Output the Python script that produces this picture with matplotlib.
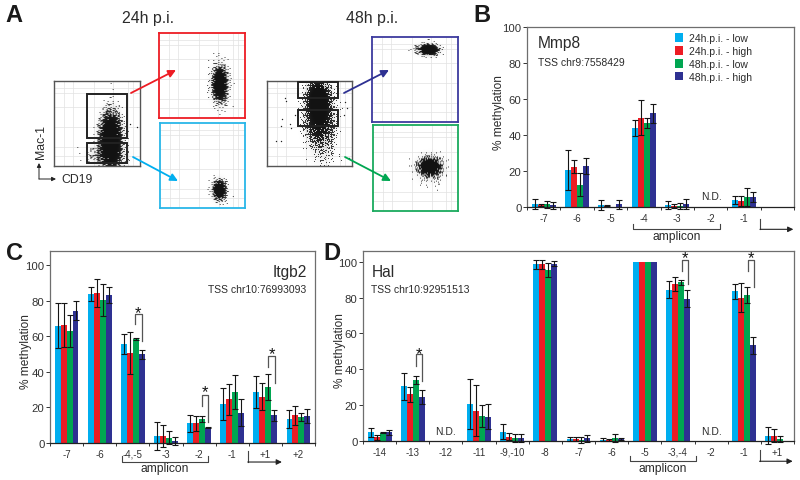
import numpy as np
import matplotlib
matplotlib.use('Agg')
import matplotlib.pyplot as plt
from matplotlib.patches import Rectangle, FancyArrowPatch

W, H = 800, 481

C_LOW24 = '#00aeef'
C_HIGH24 = '#ed1c24'
C_LOW48 = '#00a651'
C_HIGH48 = '#2e3192'
COLORS = [C_LOW24, C_HIGH24, C_LOW48, C_HIGH48]
SERIES = ['24h.p.i. - low', '24h.p.i. - high', '48h.p.i. - low', '48h.p.i. - high']
FRAME = '#6e6e6e'
TEXT = '#2b2b2b'

# ── Values ───────────────────────────────────────────────────────────────────

MMP8_LABELS = ['-7', '-6', '-5', '-4', '-3', '-2', '-1', '']
MMP8_LOW24 = [1.5, 20.5, 1.2, 44, 1.3, 0, 3.8, 0]
MMP8_HIGH24 = [1, 22.5, 0.7, 49.5, 0.5, 0, 3.3, 0]
MMP8_LOW48 = [1.5, 12.5, 0, 46.5, 0.8, 0, 5.5, 0]
MMP8_HIGH48 = [1, 23, 1.5, 52, 1.5, 0, 5.5, 0]
MMP8_ERR_LOW24 = [2.7, 11, 2.7, 4.5, 2.2, 0, 2.2, 0]
MMP8_ERR_HIGH24 = [0.5, 3.5, 0.3, 9.7, 1, 0, 3, 0]
MMP8_ERR_LOW48 = [2, 6.5, 0, 2.7, 1.7, 0, 4.8, 0]
MMP8_ERR_HIGH48 = [2, 4.5, 2.5, 5.5, 2.8, 0, 2.7, 0]

ITGB2_LABELS = ['-7', '-6', '-4,-5', '-3', '-2', '-1', '+1', '+2']
ITGB2_LOW24 = [66, 84, 55.5, 4, 11, 22, 28.5, 13.3]
ITGB2_HIGH24 = [66.5, 84.5, 50.5, 4, 11, 24.5, 26, 15.5]
ITGB2_LOW48 = [63, 80.5, 58.5, 3, 13.5, 28.5, 31.5, 14.7]
ITGB2_HIGH48 = [74.5, 83, 50, 1.3, 8.7, 17, 15.5, 15.3]
ITGB2_ERR_LOW24 = [12.5, 4, 5.7, 8, 4.7, 9, 9, 5]
ITGB2_ERR_HIGH24 = [12.5, 7.8, 11.7, 6, 4, 8.5, 7.5, 5.3]
ITGB2_ERR_LOW48 = [9, 9.2, 0.3, 3.5, 1.5, 9.5, 7.3, 2.3]
ITGB2_ERR_HIGH48 = [5.5, 4.5, 2.5, 2.2, 0.3, 7.5, 3, 3.8]

HAL_LABELS = ['-14', '-13', '-12', '-11', '-9,-10', '-8', '-7', '-6', '-5', '-3,-4', '-2', '-1', '+1']
HAL_LOW24 = [4.8, 30.5, 0, 20.5, 5.3, 98.5, 1.2, 0.8, 100, 84.5, 0, 83.5, 3]
HAL_HIGH24 = [2, 26, 0, 17, 2.3, 98.5, 1.2, 0.5, 100, 87.5, 0, 80, 3]
HAL_LOW48 = [4.5, 34, 0, 14, 1.7, 95.5, 0.7, 1.8, 100, 88.5, 0, 81.5, 1]
HAL_HIGH48 = [4.8, 24.5, 0, 13.5, 1.7, 99, 1.5, 1, 100, 79.5, 0, 53.5, 0.2]
HAL_ERR_LOW24 = [2.7, 7.5, 0, 14, 4, 2.5, 1, 0.7, 0, 4.7, 0, 4, 4.8]
HAL_ERR_HIGH24 = [1.3, 4, 0, 14, 2, 2.5, 1.2, 0.5, 0, 4, 0, 8, 3.5]
HAL_ERR_LOW48 = [0.3, 2, 0, 6, 2.3, 4, 1.7, 2.3, 0, 1.5, 0, 4.5, 1.8]
HAL_ERR_HIGH48 = [1.2, 4, 0, 7, 2, 1.5, 2, 0.5, 0, 4.5, 0, 4.7, 0]

# flow plots: density blobs (x, y, spread x, spread y, weight)
CLOUD_24_MAIN = [(0.66, 0.30, 0.056, 0.15, 12), (0.62, 0.12, 0.11, 0.07, 1.2), (0.66, 0.42, 0.07, 0.12, 0.5)]
CLOUD_24_HIGH = [(0.70, 0.40, 0.036, 0.085, 12), (0.70, 0.40, 0.06, 0.13, 0.8)]
CLOUD_24_LOW = [(0.69, 0.21, 0.03, 0.048, 12), (0.69, 0.21, 0.05, 0.07, 1)]
CLOUD_48_MAIN = [(0.605, 0.75, 0.056, 0.11, 12), (0.62, 0.50, 0.08, 0.13, 3), (0.65, 0.22, 0.08, 0.13, 0.35),
                 (0.61, 0.72, 0.09, 0.16, 1)]
CLOUD_48_HIGH = [(0.66, 0.85, 0.048, 0.027, 12), (0.65, 0.85, 0.08, 0.04, 0.9)]
CLOUD_48_LOW = [(0.67, 0.515, 0.056, 0.045, 12), (0.67, 0.50, 0.09, 0.08, 0.9)]

STRAY_48_X = [0.21, 0.22, 0.11, 0.16, 0.18, 0.28, 0.27, 0.92, 0.94, 0.90, 0.96, 0.33, 0.16]
STRAY_48_Y = [0.80, 0.76, 0.29, 0.30, 0.55, 0.45, 0.50, 0.75, 0.68, 0.60, 0.10, 0.60, 0.47]
STRAY_24_X = [0.97, 0.88]
STRAY_24_Y = [0.46, 0.50]

GATES_24 = [(0.38, 0.33, 0.47, 0.52), (0.38, 0.035, 0.47, 0.235)]
GATES_48 = [(0.365, 0.80, 0.47, 0.19), (0.365, 0.47, 0.47, 0.19)]
GRID_FRACS = [0.12, 0.22, 0.46, 0.69, 0.86, 0.92]


# ── Helpers ──────────────────────────────────────────────────────────────────

def px_axes(fig, left, top, right, bottom, **kw):
    return fig.add_axes([left / W, 1 - bottom / H, (right - left) / W, (bottom - top) / H], **kw)


def density_image(blobs, n=85):
    # dots are stippled with a fixed low-discrepancy threshold, so every run is identical
    u = (np.arange(n) + 0.5) / n
    xx, yy = np.meshgrid(u, u)
    dens = np.zeros_like(xx)
    for cx, cy, sx, sy, w in blobs:
        dens += w * np.exp(-0.5 * (((xx - cx) / sx) ** 2 + ((yy - cy) / sy) ** 2))
    prob = 1 - np.exp(-dens)
    i, j = np.meshgrid(np.arange(n), np.arange(n))
    thresh = (i * 0.7548776662 + j * 0.5698402910 + (i * j % 7) * 0.381966) % 1
    rgba = np.zeros((n, n, 4))
    rgba[..., :3] = 0.07
    rgba[..., 3] = np.clip((prob > thresh) * 0.75 + prob * 0.25, 0, 1)
    return rgba


def flow_panel(fig, box, edge, lw, blobs, stray=None, gates=()):
    ax = px_axes(fig, *box)
    ax.set_xlim(0, 1)
    ax.set_ylim(0, 1)
    ax.set_xticks([])
    ax.set_yticks([])
    for s in ax.spines.values():
        s.set_color(edge)
        s.set_linewidth(lw)
    for f in GRID_FRACS:
        ax.axvline(f, color='#e2e2e2', lw=0.5, zorder=0)
        ax.axhline(f, color='#e2e2e2', lw=0.5, zorder=0)
    ax.imshow(density_image(blobs), extent=(0, 1, 0, 1), origin='lower', aspect='auto',
              interpolation='bilinear', zorder=1)
    if stray is not None:
        ax.scatter(stray[0], stray[1], s=1.0, color='#222222', lw=0, zorder=2)
    for x, y, w, h in gates:
        ax.add_patch(Rectangle((x, y), w, h, fc='none', ec='#222222', lw=1.4, zorder=4))
    return ax


def bracket(ax, x0, x1, top, left_end, right_end, star_y):
    ax.plot([x0, x0, x1, x1], [left_end, top, top, right_end], color='#555555', lw=0.9, clip_on=False, zorder=6)
    ax.text((x0 + x1) / 2, star_y, '*', ha='center', va='center', fontsize=12, color='#111111', clip_on=False)


def amplicon(ax, x0, x1, y_tip, y_base, y_text):
    ax.plot([x0, x0, x1, x1], [y_tip, y_base, y_base, y_tip], color='#444444', lw=0.8, clip_on=False)
    ax.text((x0 + x1) / 2, y_text, 'amplicon', ha='center', va='center', fontsize=8.7, color=TEXT)


def tss_arrow(ax, x0, x1, y_top, y_base):
    ax.plot([x0, x0], [y_top, y_base], color='#444444', lw=0.8, clip_on=False)
    ax.annotate('', xy=(x1, y_base), xytext=(x0, y_base), annotation_clip=False,
                arrowprops=dict(arrowstyle='-|>', color='#222222', lw=0.8, mutation_scale=8, shrinkA=0, shrinkB=0))


def bar_panel(fig, box, ymax, labels, values, errors, label_px, label_frac):
    ax = px_axes(fig, *box)
    n = len(labels)
    x = np.arange(n)
    width = 0.18
    for i, (vals, errs, color) in enumerate(zip(values, errors, COLORS)):
        pos = x + 0.5 + (i - 1.5) * width
        vals = np.array(vals, dtype=float)
        errs = np.array(errs, dtype=float)
        ax.bar(pos, vals, width, color=color, lw=0, label=SERIES[i], zorder=2)
        keep = errs > 0
        ax.errorbar(pos[keep], vals[keep], yerr=errs[keep], fmt='none', ecolor='#151515',
                    elinewidth=0.8, capsize=2.3, capthick=0.8, zorder=3, clip_on=False)
    ax.set_xlim(0, n)
    ax.set_ylim(0, ymax)
    ax.set_yticks(range(0, 101, 20))
    ax.set_xticks(range(n + 1))
    ax.set_xticklabels([])
    ax.set_xticks(x + 0.5, labels=labels, minor=True)
    ax.tick_params(axis='x', which='minor', length=0, labelsize=7, colors='#333333', pad=4)
    ax.tick_params(axis='x', which='major', length=2.5, width=0.7, color='#333333')
    ax.tick_params(axis='y', length=3, width=0.7, color='#333333', labelsize=8.2, labelcolor='#333333', pad=1)
    ax.set_ylabel('% methylation', fontsize=8.6, color=TEXT)
    ax.yaxis.set_label_coords((label_px - box[0]) / (box[2] - box[0]), label_frac)
    for s in ax.spines.values():
        s.set_color(FRAME)
        s.set_linewidth(0.9)
    ax.spines['bottom'].set_color('#222222')
    return ax


# ── Figure ───────────────────────────────────────────────────────────────────

plt.rcParams['font.family'] = ['Liberation Sans', 'DejaVu Sans']

fig = plt.figure(figsize=(W / 100, H / 100), dpi=100)

# panel A
flow_panel(fig, (54, 82, 140, 167), '#555555', 1.0, CLOUD_24_MAIN, (STRAY_24_X, STRAY_24_Y), GATES_24)
flow_panel(fig, (159, 34, 245, 119), C_HIGH24, 1.3, CLOUD_24_HIGH)
flow_panel(fig, (160, 124, 245, 209), '#29b6e8', 1.3, CLOUD_24_LOW)
flow_panel(fig, (267, 82, 352, 167), '#555555', 1.0, CLOUD_48_MAIN, (STRAY_48_X, STRAY_48_Y), GATES_48)
flow_panel(fig, (372, 38, 458, 123), '#3d3a9e', 1.3, CLOUD_48_HIGH)
flow_panel(fig, (373, 126, 458, 212), '#1aaa5e', 1.3, CLOUD_48_LOW)

# panel B
ax_b = bar_panel(fig, (527, 28, 794, 208), 100, MMP8_LABELS,
                 [MMP8_LOW24, MMP8_HIGH24, MMP8_LOW48, MMP8_HIGH48],
                 [MMP8_ERR_LOW24, MMP8_ERR_HIGH24, MMP8_ERR_LOW48, MMP8_ERR_HIGH48], 505, 0.528)
ax_b.text(0.33, 91.5, 'Mmp8', fontsize=11.2, color=TEXT, va='center')
ax_b.text(0.33, 80.5, 'TSS chr9:7558429', fontsize=7.5, color=TEXT, va='center')
ax_b.text(5.54, 6.2, 'N.D.', fontsize=7.5, color=TEXT, va='center', ha='center')
ax_b.legend(loc='upper left', bbox_to_anchor=(0.555, 0.965), frameon=False, fontsize=7.5, labelcolor=TEXT,
            handlelength=0.75, handleheight=0.9, handletextpad=0.6, labelspacing=0.27, borderpad=0, borderaxespad=0)
amplicon(ax_b, 3.18, 5.78, -9.6, -12.4, -16)
tss_arrow(ax_b, 6.98, 7.98, -6.5, -12.4)

# panel C
ax_c = bar_panel(fig, (50, 252, 315, 444), 108, ITGB2_LABELS,
                 [ITGB2_LOW24, ITGB2_HIGH24, ITGB2_LOW48, ITGB2_HIGH48],
                 [ITGB2_ERR_LOW24, ITGB2_ERR_HIGH24, ITGB2_ERR_LOW48, ITGB2_ERR_HIGH48], 32, 0.484)
ax_c.text(7.75, 96.5, 'Itgb2', fontsize=11.2, color=TEXT, va='center', ha='right')
ax_c.text(7.75, 86.5, 'TSS chr10:76993093', fontsize=7.5, color=TEXT, va='center', ha='right')
bracket(ax_c, 2.57, 2.77, 72.4, 66.8, 57.5, 73.5)
bracket(ax_c, 4.59, 4.78, 27.2, 21, 11.8, 29)
bracket(ax_c, 6.59, 6.79, 48.7, 42.5, 33.8, 50.5)
amplicon(ax_c, 2.16, 4.78, -7.5, -10.7, -14)
tss_arrow(ax_c, 5.97, 7.0, -4.5, -10.7)

# panel D
ax_d = bar_panel(fig, (363, 252, 794, 442), 106, HAL_LABELS,
                 [HAL_LOW24, HAL_HIGH24, HAL_LOW48, HAL_HIGH48],
                 [HAL_ERR_LOW24, HAL_ERR_HIGH24, HAL_ERR_LOW48, HAL_ERR_HIGH48], 346, 0.479)
ax_d.text(0.27, 94.8, 'Hal', fontsize=11.2, color=TEXT, va='center')
ax_d.text(0.24, 84.8, 'TSS chr10:92951513', fontsize=7.5, color=TEXT, va='center')
ax_d.text(2.5, 5.5, 'N.D.', fontsize=7.5, color=TEXT, va='center', ha='center')
ax_d.text(10.5, 5.5, 'N.D.', fontsize=7.5, color=TEXT, va='center', ha='center')
bracket(ax_d, 1.61, 1.79, 48.3, 42, 33.5, 49)
bracket(ax_d, 9.61, 9.79, 101, 95, 87.7, 102.5)
bracket(ax_d, 11.62, 11.8, 101, 95, 86, 102.5)
amplicon(ax_d, 8.05, 10.04, -8.4, -11.3, -14.9)
tss_arrow(ax_d, 11.96, 12.96, -5.2, -11.3)

# overlay in pixel units for letters, headers and the gating arrows
ov = fig.add_axes([0, 0, 1, 1], zorder=10)
ov.set_xlim(0, W)
ov.set_ylim(H, 0)
ov.axis('off')
ov.patch.set_alpha(0)

for letter, x, y in [('A', 5, 15), ('B', 473, 15), ('C', 6, 253), ('D', 323, 253)]:
    ov.text(x, y, letter, fontsize=17, fontweight='bold', color='#1a1a1a', va='center')
ov.text(148, 19, '24h p.i.', fontsize=11.4, color=TEXT, ha='center', va='center')
ov.text(372, 19, '48h p.i.', fontsize=11.4, color=TEXT, ha='center', va='center')
ov.text(41, 142, 'Mac-1', fontsize=8.8, color=TEXT, rotation=90, ha='center', va='center')
ov.text(61, 180.5, 'CD19', fontsize=8.8, color=TEXT, va='center')

for start, end, color in [((131, 94), (176, 71), C_HIGH24), ((133, 158), (178, 182), C_LOW24),
                          ((344, 94), (389, 71), C_HIGH48), ((345, 158), (391, 182), C_LOW48)]:
    ov.add_patch(FancyArrowPatch(start, end, arrowstyle='-|>', color=color, lw=1.3, mutation_scale=11, shrinkA=0, shrinkB=0))
for end in [(39, 164), (56, 180)]:
    ov.add_patch(FancyArrowPatch((39, 180), end, arrowstyle='-|>', color='#222222', lw=0.7, mutation_scale=6, shrinkA=0, shrinkB=0))

fig.savefig('out.png', dpi=100)
